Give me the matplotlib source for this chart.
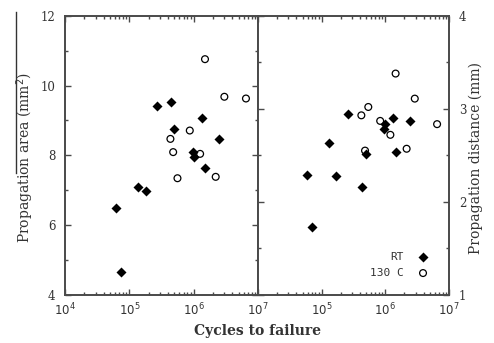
import matplotlib
matplotlib.use("Agg")
import matplotlib.pyplot as plt
from matplotlib.lines import Line2D
from matplotlib.ticker import LogLocator, FixedLocator, NullFormatter
import numpy as np

# ---------- data ----------
# Left panel: propagation area (mm^2)
rt_area_cycles = [6.1e4, 7.4e4, 1.38e5, 1.8e5, 2.7e5, 4.46e5, 4.95e5, 1.34e6, 9.9e5, 1.0e6, 1.5e6, 2.46e6]
rt_area = [6.49, 4.65, 7.09, 6.96, 9.41, 9.52, 8.75, 9.06, 8.08, 7.94, 7.64, 8.46]
ht_area_cycles = [1.5e6, 3.0e6, 6.5e6, 4.35e5, 4.8e5, 5.6e5, 8.7e5, 1.26e6, 2.2e6]
ht_area = [10.76, 9.68, 9.63, 8.47, 8.09, 7.34, 8.71, 8.04, 7.38]

# Right panel: propagation distance (mm)
rt_dist_cycles = [5.8e4, 7.0e4, 1.32e5, 1.7e5, 2.56e5, 4.3e5, 4.9e5, 9.9e5, 9.6e5, 1.33e6, 1.45e6, 2.43e6]
rt_dist = [2.285, 1.727, 2.627, 2.274, 2.943, 2.16, 2.51, 2.84, 2.785, 2.90, 2.53, 2.87]
ht_dist_cycles = [1.45e6, 2.9e6, 6.5e6, 4.2e5, 5.4e5, 4.8e5, 8.3e5, 1.2e6, 2.16e6]
ht_dist = [3.38, 3.11, 2.835, 2.93, 3.02, 2.55, 2.87, 2.72, 2.57]

legend_labels = ["RT", "130 C"]
x_label = "Cycles to failure"
y_label_left = "Propagation area (mm$^{2}$)"
y_label_right = "Propagation distance (mm)"

# ---------- style ----------
W, H = 494, 343
fig = plt.figure(figsize=(W / 100, H / 100), dpi=100)
serif = ["DejaVu Serif"]
spine_c = "#4a4a4a"
txt_c = "#333333"

axL = fig.add_axes([65 / W, 1 - 294.5 / H, (258 - 65) / W, 278.5 / H])
axR = fig.add_axes([258 / W, 1 - 294.5 / H, (449 - 258) / W, 278.5 / H])

def style(ax):
    ax.set_xscale("log")
    ax.set_xlim(1e4, 1e7)
    ax.xaxis.set_major_locator(FixedLocator([1e4, 1e5, 1e6, 1e7]))
    minors = [m * 10 ** e for e in (4, 5, 6) for m in range(2, 10)]
    ax.xaxis.set_minor_locator(FixedLocator(minors))
    ax.xaxis.set_minor_formatter(NullFormatter())
    for s in ax.spines.values():
        s.set_color(spine_c)
        s.set_linewidth(1.4)
    ax.tick_params(which="both", direction="in", top=True, color=spine_c, width=1.0)
    ax.tick_params(which="major", length=4)
    ax.tick_params(which="minor", length=2.5)
    ax.tick_params(axis="x", pad=5)
    ax.tick_params(axis="y", pad=7)

def fix_labels(ax):
    for lab in ax.get_xticklabels() + ax.get_yticklabels():
        lab.set_fontfamily(serif)
        lab.set_fontsize(8.5)
        lab.set_color(txt_c)

mk_f = dict(marker="D", s=26, color="black", linewidths=0, zorder=3)
mk_o = dict(marker="o", s=24, facecolors="none", edgecolors="black", linewidths=0.9, zorder=3)

# Left panel
axL.scatter(rt_area_cycles, rt_area, **mk_f)
axL.scatter(ht_area_cycles, ht_area, **mk_o)
axL.set_ylim(4, 12)
style(axL)
axL.yaxis.set_major_locator(FixedLocator([4, 6, 8, 10, 12]))
axL.yaxis.set_minor_locator(FixedLocator([5, 7, 9, 11]))
axL.tick_params(axis="y", which="both", left=True, right=True)
axL.set_xticklabels(["$10^{4}$", "$10^{5}$", "$10^{6}$", "$10^{7}$"])
fix_labels(axL)

# Right panel
axR.scatter(rt_dist_cycles, rt_dist, **mk_f)
axR.scatter(ht_dist_cycles, ht_dist, **mk_o)
axR.set_ylim(1, 4)
style(axR)
axR.yaxis.set_major_locator(FixedLocator([1, 2, 3, 4]))
axR.yaxis.set_minor_locator(FixedLocator([1.5, 2.5, 3.5]))
axR.yaxis.tick_right()
axR.tick_params(axis="y", which="both", left=True, right=True, labelleft=False, labelright=True)
axR.set_xticklabels(["", "$10^{5}$", "$10^{6}$", "$10^{7}$"])
fix_labels(axR)

# Legend (manual, inside right panel)
axR.text(0.765, 0.135, legend_labels[0], transform=axR.transAxes, ha="right", va="center",
         fontsize=8, family="DejaVu Sans Mono", color=txt_c)
axR.text(0.765, 0.077, legend_labels[1], transform=axR.transAxes, ha="right", va="center",
         fontsize=8, family="DejaVu Sans Mono", color=txt_c)
axR.scatter([0.864], [0.135], transform=axR.transAxes, **mk_f)
axR.scatter([0.864], [0.077], transform=axR.transAxes, **mk_o)

# Labels
fig.text(257 / W, 1 - 331 / H, x_label, ha="center", va="center", fontsize=10,
         family=serif, fontweight="bold", color=txt_c)
fig.text(25 / W, 1 - 158 / H, y_label_left, ha="center", va="center", rotation=90,
         fontsize=10, family=serif, color=txt_c)
fig.text(476 / W, 1 - 158 / H, y_label_right, ha="center", va="center", rotation=90,
         fontsize=10, family=serif, color=txt_c)
fig.add_artist(Line2D([16 / W, 16 / W], [1 - 12 / H, 1 - 173 / H], transform=fig.transFigure,
                      color=txt_c, linewidth=1.0))

fig.savefig("out.png", dpi=100)
